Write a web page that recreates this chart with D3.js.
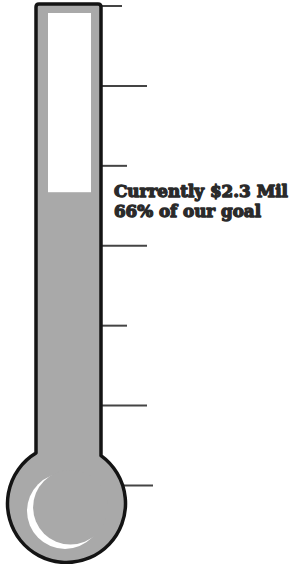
<!DOCTYPE html>
<html>
<head>
<meta charset="utf-8">
<script src="https://cdn.jsdelivr.net/npm/d3@7"></script>
<style>
  html, body { margin: 0; padding: 0; background: #fff; }
  svg { display: block; }
</style>
</head>
<body>
<div id="chart"></div>
<script>
// data
let tickValues = [0, 1, 2, 3, 4, 5, 6];     // tick marks along the tube (units)
let currentLevel = 3.67;                      // fill level, in tick units
let labelLines = ['Currently $2.3 Mil', '66% of our goal'];

let width = 295, height = 564;
let svg = d3.select('#chart').append('svg').attr('width', width).attr('height', height);

let tube = {left: 36, right: 101, top: 4};
let bulb = {cx: 66.5, cy: 503.5, r: 59};

let yScale = d3.scaleLinear().domain([0, 6]).range([485.5, 6]);

// ticks
let g = svg.append('g');
g.selectAll('line.tick')
  .data(tickValues).enter().append('line')
  .attr('class', 'tick')
  .attr('x1', d => d === 0 ? 122 : tube.right)
  .attr('x2', d => d === 0 ? 153 : (d % 2 === 1 ? 147 : (d === 6 ? 122 : 127)))
  .attr('y1', d => yScale(d))
  .attr('y2', d => yScale(d))
  .attr('stroke', '#444')
  .attr('stroke-width', 2);

// outline of tube + bulb
let yl = bulb.cy - Math.sqrt(bulb.r * bulb.r - Math.pow(tube.left - bulb.cx, 2));
let yr = bulb.cy - Math.sqrt(bulb.r * bulb.r - Math.pow(tube.right - bulb.cx, 2));
let rc = 3;
let p = d3.path();
p.moveTo(tube.left, yl);
p.lineTo(tube.left, tube.top + rc);
p.quadraticCurveTo(tube.left, tube.top, tube.left + rc, tube.top);
p.lineTo(tube.right - rc, tube.top);
p.quadraticCurveTo(tube.right, tube.top, tube.right, tube.top + rc);
p.lineTo(tube.right, yr);
let a1 = Math.atan2(yr - bulb.cy, tube.right - bulb.cx);
let a0 = Math.atan2(yl - bulb.cy, tube.left - bulb.cx);
p.arc(bulb.cx, bulb.cy, bulb.r, a1, a0 + 2 * Math.PI, false);
p.closePath();

svg.append('path')
  .attr('d', p.toString())
  .attr('fill', '#a9a9a9')
  .attr('stroke', '#141414')
  .attr('stroke-width', 3.5)
  .attr('stroke-linejoin', 'round');

// empty part of the tube
let innerTop = 13;
svg.append('rect')
  .attr('x', tube.left + 12)
  .attr('y', innerTop)
  .attr('width', tube.right - tube.left - 22)
  .attr('height', yScale(currentLevel) - innerTop)
  .attr('fill', '#fff');

// crescent highlight on the bulb
svg.append('circle').attr('cx', 65).attr('cy', 511).attr('r', 38).attr('fill', '#fff');
svg.append('circle').attr('cx', 70.4).attr('cy', 507.3).attr('r', 37.3).attr('fill', '#a9a9a9');

// label
let label = svg.append('text')
  .attr('x', 114)
  .attr('font-family', 'DejaVu Serif')
  .attr('font-weight', 'bold')
  .attr('font-size', 16.5)
  .attr('fill', '#2a2a2a')
  .attr('stroke', '#2a2a2a')
  .attr('stroke-width', 1.3)
  .attr('stroke-linejoin', 'round');
label.selectAll('tspan')
  .data(labelLines).enter().append('tspan')
  .attr('x', 114)
  .attr('y', (d, i) => 196.5 + i * 20)
  .attr('textLength', (d, i) => i === 0 ? 174 : 147)
  .attr('lengthAdjust', 'spacingAndGlyphs')
  .text(d => d);
</script>
</body>
</html>
